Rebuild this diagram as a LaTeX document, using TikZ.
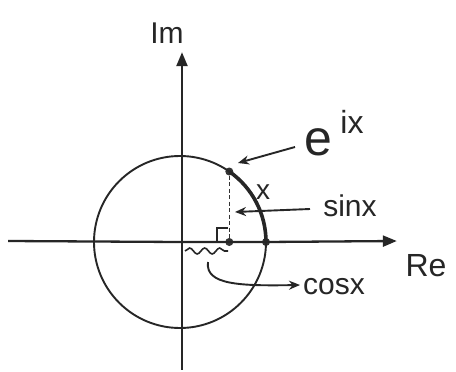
\documentclass[tikz,border=0pt]{standalone}
\usepackage{fontspec}
\setmainfont{Liberation Sans}
\usetikzlibrary{arrows.meta,decorations.pathmorphing}
\begin{document}
\begin{tikzpicture}[x=1pt,y=-1pt,
  axis/.style={line width=2.3pt,draw=black!85},
  axtip/.style={-{Triangle[length=14pt,width=11pt]}},
  circ/.style={line width=1.9pt,draw=black!85},
  ptr/.style={line width=1.9pt,draw=black!85,-{Stealth[length=11pt,width=9pt]}},
  dot/.style={circle,fill=black!80,inner sep=0pt,minimum size=8pt},
  lbl/.style={inner sep=0pt,text=black!85},
  pt/.style={inner sep=0pt,minimum size=0pt}]
\useasboundingbox (0,0) rectangle (456,372);
\fill[white] (0,0) rectangle (456,372);
% key points
\node[pt] (O) at (180,242) {};
\node[pt] (xl) at (8,241) {};
\node[pt] (xr) at (397,241) {};
\node[pt] (yb) at (182,370) {};
\node[pt] (yt) at (182,52) {};
\node[dot] (P) at (229.3,171.5) {};
\node[dot] (Q) at (229.3,242) {};
\node[dot] (A) at (266,242) {};
% axes
\draw[axis] (xl) -- (O.center) -- (A.center);
\draw[axis,axtip] (A.center) -- (xr);
\draw[axis,axtip] (yb) -- (yt);
% circle
\draw[circ] (O.center) circle[radius=86];
% thick arc
\draw[line width=3.6pt,draw=black!85] (A.center) arc[start angle=0,end angle=-55,radius=86];
% dashed drop
\draw[line width=1.6pt,dash pattern=on 4pt off 2.5pt,draw=black!80] (P) -- (Q);
% right angle mark
\draw[line width=1.6pt,draw=black!85] (217,242) -- (217,228) -- (228,228);
% labels
\node[lbl,font=\fontsize{30}{30}\selectfont] (Im) at (167,33) {Im};
\node[lbl,font=\fontsize{32}{32}\selectfont] (Re) at (426,266) {Re};
\node[lbl,font=\fontsize{50}{50}\selectfont] (E) at (318,142) {e};
\node[lbl,font=\fontsize{32}{32}\selectfont] (ix) at (352,122) {ix};
\node[lbl,font=\fontsize{28}{28}\selectfont] (X) at (263,192) {x};
\node[lbl,font=\fontsize{30}{30}\selectfont] (sin) at (350,206) {sinx};
\node[lbl,font=\fontsize{30}{30}\selectfont] (cos) at (334,287) {cosx};
% pointers
\coordinate (eT) at (295,147);
\coordinate (eH) at (238,163);
\draw[ptr] (eT) -- (eH);
\coordinate (sT) at (310,209);
\coordinate (sH) at (235,212);
\draw[ptr] (sT) -- (sH);
% squiggle under cos
\coordinate (w1) at (185,251);
\coordinate (w2) at (228,251);
\draw[line width=1.6pt,draw=black!85,decorate,decoration={snake,amplitude=3pt,segment length=15pt}] (w1) -- (w2);
\coordinate (cS) at (208,262);
\coordinate (cH) at (300,285);
\draw[ptr] (cS) .. controls (205,285) and (240,286) .. (cH);
\end{tikzpicture}
\end{document}
